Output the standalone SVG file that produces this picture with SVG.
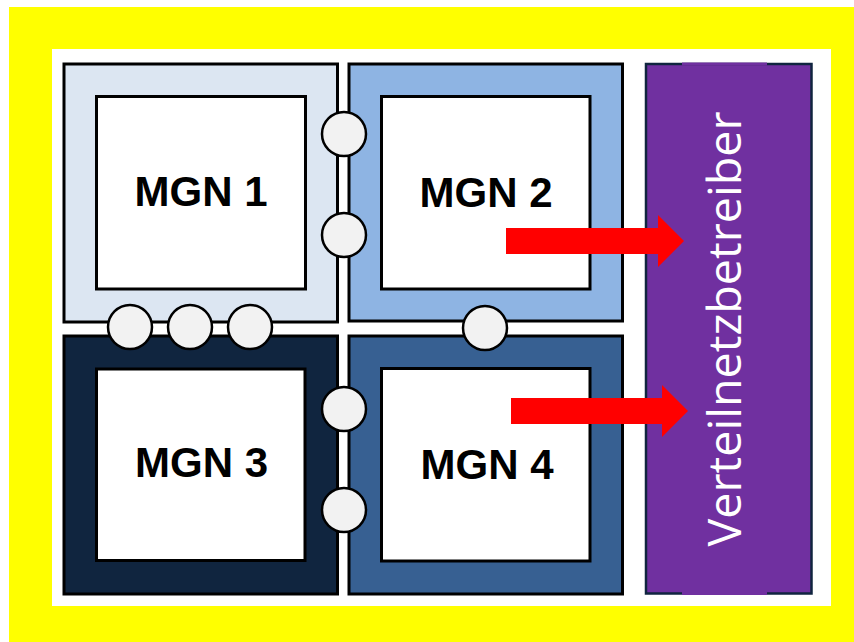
<svg xmlns="http://www.w3.org/2000/svg" width="854" height="642" viewBox="0 0 854 642">
<style>
.outer{stroke:#000;stroke-width:3}
.inner{fill:#fff;stroke:#000;stroke-width:3}
.lbl{font-family:"Liberation Sans",Arial,sans-serif;font-weight:bold;font-size:42px;fill:#000;text-anchor:middle}
.cpl{fill:#f2f2f2;stroke:#000;stroke-width:2.5}
.arrow{fill:#ff0000}
</style>
<rect x="0" y="0" width="854" height="642" fill="#fff"/>
<rect x="9" y="7" width="845" height="635" fill="#ffff00"/>
<rect x="52" y="49" width="779" height="557" fill="#fff"/>
<g id="mgn1">
<rect class="outer" x="64" y="64" width="273.5" height="258" fill="#dce6f2"/>
<rect class="inner" x="96.5" y="96.5" width="209" height="192.5"/>
<text class="lbl" x="201" y="206">MGN 1</text>
</g>
<g id="mgn2">
<rect class="outer" x="349" y="64" width="273.5" height="257" fill="#8eb4e3"/>
<rect class="inner" x="381.5" y="96.5" width="208.5" height="192.5"/>
<text class="lbl" x="486" y="207">MGN 2</text>
</g>
<g id="mgn3">
<rect class="outer" x="64" y="336" width="273.5" height="258" fill="#10253f"/>
<rect class="inner" x="96.5" y="369" width="208.5" height="191.5"/>
<text class="lbl" x="201.5" y="477">MGN 3</text>
</g>
<g id="mgn4">
<rect class="outer" x="349" y="336" width="273.5" height="258" fill="#376092"/>
<rect class="inner" x="381.5" y="368.5" width="208.5" height="192.5"/>
<text class="lbl" x="487" y="479">MGN 4</text>
</g>
<g id="couplings">
<circle class="cpl" cx="344" cy="134" r="22"/>
<circle class="cpl" cx="344" cy="235" r="22"/>
<circle class="cpl" cx="130" cy="327" r="22"/>
<circle class="cpl" cx="190" cy="327" r="22"/>
<circle class="cpl" cx="250" cy="327" r="22"/>
<circle class="cpl" cx="485" cy="328" r="22"/>
<circle class="cpl" cx="344" cy="409" r="22"/>
<circle class="cpl" cx="344" cy="510" r="22"/>
</g>
<g id="verteilnetzbetreiber">
<rect x="646" y="64" width="165.5" height="529.5" fill="#7030a0" stroke="#10253f" stroke-width="2.5"/>
<rect x="682" y="62.5" width="85" height="3" fill="#7030a0"/>
<rect x="682" y="592" width="85" height="3" fill="#7030a0"/>
<text transform="translate(741,329) rotate(-90)" x="-217.5" y="0" font-family="'Open Sans','Noto Sans',sans-serif" font-size="46" fill="#fff" textLength="435" lengthAdjust="spacingAndGlyphs">Verteilnetzbetreiber</text>
</g>
<g id="connectors">
<polygon class="arrow" points="506,228 658,228 658,215 684,241 658,267 658,254 506,254"/>
<polygon class="arrow" points="511,398 662,398 662,385 688,411 662,437 662,424 511,424"/>
</g>
</svg>
